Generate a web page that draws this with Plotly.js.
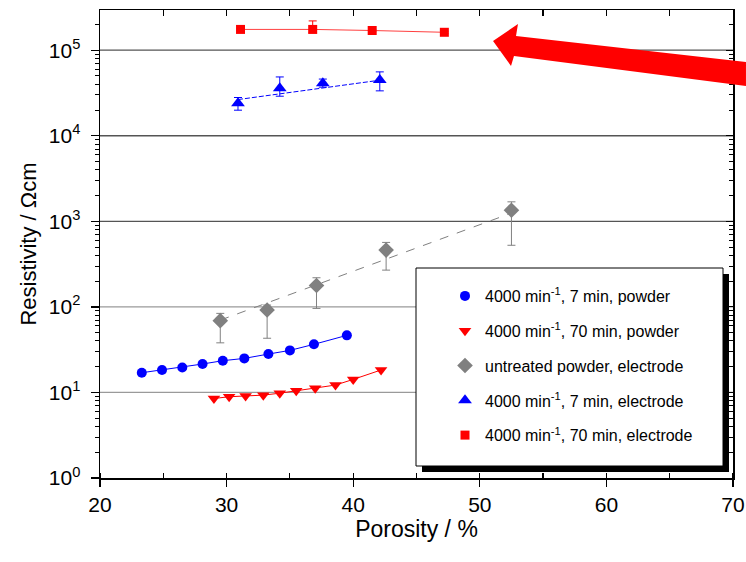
<!DOCTYPE html>
<html>
<head>
<meta charset="utf-8">
<script src="https://cdn.plot.ly/plotly-3.0.1.min.js"></script>
<style>html,body{margin:0;padding:0;background:#fff;}#chart{width:746px;height:562px;}</style>
</head>
<body>
<div id="chart"></div>
<script>
// ---- data ----
const powder7X = [23.3, 24.9, 26.5, 28.1, 29.7, 31.4, 33.3, 35.0, 36.9, 39.5];
const powder7Y = [17.0, 18.3, 19.6, 21.5, 23.5, 25.0, 28.1, 31.0, 36.5, 46.5];

const powder70X = [29.0, 30.2, 31.5, 32.9, 34.2, 35.5, 37.0, 38.6, 40.0, 42.2];
const powder70Y = [8.5, 8.9, 9.1, 9.3, 9.8, 10.5, 11.2, 12.2, 14.2, 18.3];

const untreatedX = [29.5, 33.2, 37.1, 42.6, 52.5];
const untreatedY = [69, 92, 178, 461, 1350];
const untreatedErrPlus = [15, 13, 41, 106, 340];
const untreatedErrMinus = [31, 49, 82, 192, 825];
const untreatedFitX = [29.5, 52.5];
const untreatedFitY = [70, 1250];

const electrode7X = [30.9, 34.2, 37.6, 42.1];
const electrode7Y = [24000, 36000, 41000, 45000];
const electrode7ErrPlus = [4000, 12700, 5000, 10800];
const electrode7ErrMinus = [4100, 7000, 4000, 11500];
const electrode7FitX = [30.9, 42.1];
const electrode7FitY = [26500, 44600];

const electrode70X = [31.1, 36.8, 41.5, 47.2];
const electrode70Y = [175000, 175000, 170000, 162000];
const electrode70ErrPlus = [5000, 45000, 5000, 5000];
const electrode70ErrMinus = [5000, 15000, 5000, 5000];

const legendNames = [
  '4000 min<sup>-1</sup>, 7 min, powder',
  '4000 min<sup>-1</sup>, 70 min, powder',
  'untreated powder, electrode',
  '4000 min<sup>-1</sup>, 7 min, electrode',
  '4000 min<sup>-1</sup>, 70 min, electrode'
];

const yTickVals = [1, 10, 100, 1000, 10000, 100000];
const yTickText = ['10<sup>0</sup>', '10<sup>1</sup>', '10<sup>2</sup>', '10<sup>3</sup>', '10<sup>4</sup>', '10<sup>5</sup>'];

// ---- layout geometry ----
const W = 746, H = 562;
const M = {l: 100, r: 13, t: 10, b: 84};
const PW = W - M.l - M.r, PH = H - M.t - M.b;
const fx = px => (px - M.l) / PW;
const fy = py => (H - M.b - py) / PH;

const BLUE = '#0000ff', RED = '#ff0000', GRAY = '#808080';
const FONT = 'Liberation Sans, Arial, sans-serif';

function errBar(color, plus, minus) {
  return {type: 'data', symmetric: false, array: plus, arrayminus: minus,
          color: color, thickness: 1, width: 4};
}
function lineTrace(x, y, color, dash, width) {
  return {x: x, y: y, mode: 'lines', showlegend: false, hoverinfo: 'skip',
          line: {color: color, width: width || 1, dash: dash || 'solid'}};
}

const traces = [
  lineTrace(powder7X, powder7Y, BLUE),
  lineTrace(powder70X, powder70Y, RED),
  lineTrace(untreatedFitX, untreatedFitY, GRAY, 'dash'),
  lineTrace(electrode7FitX, electrode7FitY, BLUE, '5px,2px'),
  lineTrace(electrode70X, electrode70Y, '#ff4040'),
  {x: powder7X, y: powder7Y, name: legendNames[0], mode: 'markers', legendgroup: 'a',
   marker: {symbol: 'circle', size: 10, color: BLUE}},
  {x: powder70X, y: powder70Y, name: legendNames[1], mode: 'markers', legendgroup: 'b',
   marker: {symbol: 'triangle-down', size: 11, color: RED}},
  {x: untreatedX, y: untreatedY, name: legendNames[2], mode: 'markers', legendgroup: 'c',
   marker: {symbol: 'diamond', size: 12, color: GRAY},
   error_y: errBar(GRAY, untreatedErrPlus, untreatedErrMinus)},
  {x: electrode7X, y: electrode7Y, name: legendNames[3], mode: 'markers', legendgroup: 'd',
   marker: {symbol: 'triangle-up', size: 12, color: BLUE},
   error_y: errBar(BLUE, electrode7ErrPlus, electrode7ErrMinus)},
  {x: electrode70X, y: electrode70Y, name: legendNames[4], mode: 'markers', legendgroup: 'e',
   marker: {symbol: 'square', size: 9, color: RED},
   error_y: errBar(RED, electrode70ErrPlus, electrode70ErrMinus)},
  {x: [], y: [], xaxis: 'x2', yaxis: 'y2', showlegend: false, hoverinfo: 'skip'}
];

const gridShapes = yTickVals.slice(1).map((v, i) => ({
  type: 'line', xref: 'paper', yref: 'y', x0: 0, x1: 1, y0: v, y1: v,
  line: {color: i < 2 ? '#9a9a9a' : '#555555', width: 1.3}, layer: 'below'
}));

const arrowPts = [[493, 41], [518, 24], [516, 36], [746, 62], [746, 86], [514, 56], [511, 66]];
const arrowPath = 'M ' + arrowPts.map(p => fx(p[0]).toFixed(4) + ',' + fy(p[1]).toFixed(4)).join(' L ') + ' Z';

const shapes = gridShapes.concat([
  {type: 'rect', xref: 'paper', yref: 'paper', x0: fx(422), x1: fx(729), y0: fy(472), y1: fy(274),
   fillcolor: '#000', line: {width: 0}, layer: 'above'},
  {type: 'rect', xref: 'paper', yref: 'paper', x0: fx(416), x1: fx(723), y0: fy(466), y1: fy(268),
   fillcolor: '#fff', line: {color: '#000', width: 1}, layer: 'above'},
  {type: 'path', xref: 'paper', yref: 'paper', path: arrowPath,
   fillcolor: RED, line: {width: 0}, layer: 'above'}
]);

const layout = {
  width: W, height: H,
  margin: M,
  paper_bgcolor: '#fff', plot_bgcolor: '#fff',
  showlegend: true,
  xaxis: {
    range: [20, 70], dtick: 10, tick0: 20, showgrid: false, zeroline: false,
    showline: true, linecolor: '#000', linewidth: 1.5,
    ticks: 'outside', ticklen: 7, tickwidth: 1.3, tickcolor: '#000',
    minor: {dtick: 5, ticks: 'inside', ticklen: 5, tickwidth: 1.2, tickcolor: '#000', showgrid: false},
    tickfont: {family: FONT, size: 21, color: '#000'},
    title: {text: 'Porosity / %', font: {family: FONT, size: 23, color: '#000'}, standoff: 0}
  },
  yaxis: {
    type: 'log', range: [0, 5.47], showgrid: false, zeroline: false,
    showline: true, linecolor: '#000', linewidth: 1.5,
    tickmode: 'array', tickvals: yTickVals, ticktext: yTickText,
    ticks: 'outside', ticklen: 8, tickwidth: 1.3, tickcolor: '#000',
    ticklabelstandoff: 6,
    minor: {dtick: 'D1', ticks: 'outside', ticklen: 4, tickwidth: 1, tickcolor: '#000', showgrid: false},
    tickfont: {family: FONT, size: 21, color: '#000'},
    title: {text: 'Resistivity / Ωcm', font: {family: FONT, size: 22, color: '#000'}, standoff: 6}
  },
  xaxis2: {
    overlaying: 'x', matches: 'x', side: 'top', anchor: 'y2', range: [20, 70], dtick: 5, tick0: 20,
    showgrid: false, zeroline: false, showline: true, linecolor: '#000', linewidth: 1.5,
    ticks: 'inside', ticklen: 6, tickwidth: 1.2, tickcolor: '#000', showticklabels: false
  },
  yaxis2: {
    overlaying: 'y', side: 'right', anchor: 'x2', type: 'log', range: [0, 5.47],
    showgrid: false, zeroline: false, showline: true, linecolor: '#000', linewidth: 1.5,
    tickmode: 'array', tickvals: yTickVals,
    ticks: 'inside', ticklen: 7, tickwidth: 1.2, tickcolor: '#000', showticklabels: false,
    minor: {dtick: 'D1', ticks: 'inside', ticklen: 4, tickwidth: 1, tickcolor: '#000', showgrid: false}
  },
  legend: {
    x: fx(445), y: fy(279), xanchor: 'left', yanchor: 'top',
    bgcolor: 'rgba(0,0,0,0)', borderwidth: 0,
    font: {family: FONT, size: 16, color: '#000'},
    traceorder: 'grouped', tracegroupgap: 11
  },
  shapes: shapes
};

Plotly.newPlot('chart', traces, layout, {displayModeBar: false, staticPlot: true});
</script>
</body>
</html>
